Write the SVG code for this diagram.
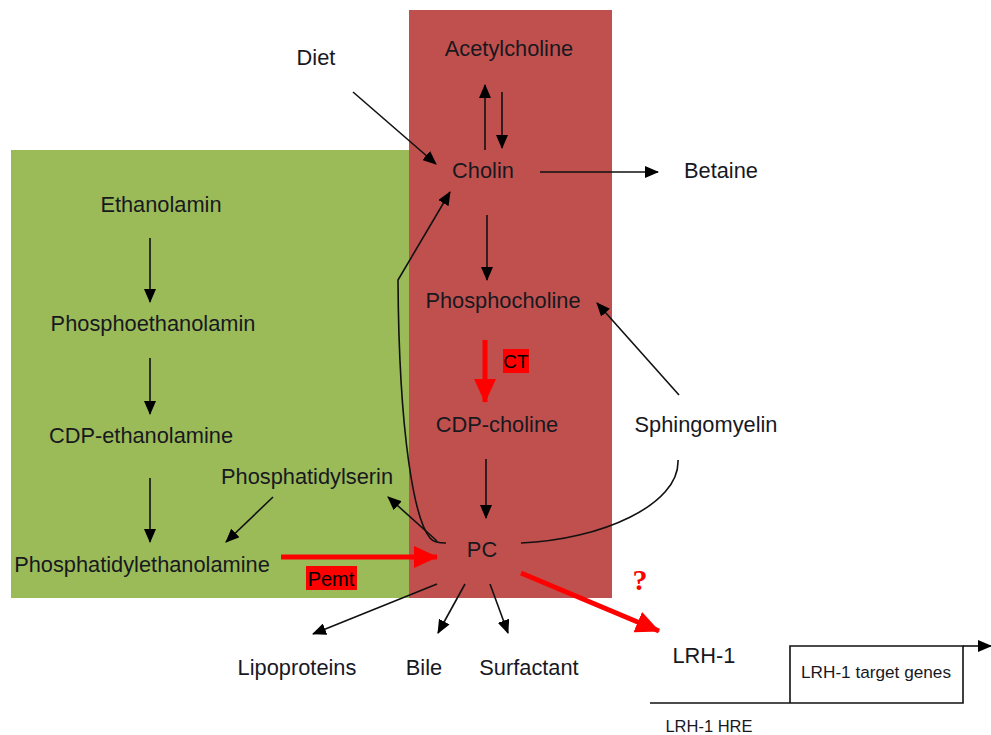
<svg xmlns="http://www.w3.org/2000/svg" width="991" height="735" viewBox="0 0 991 735">
<style>
text{font-family:"Liberation Sans",Arial,sans-serif;font-size:21.8px;fill:#18181f;text-anchor:middle}
.sm{font-size:17.2px}
.ln{stroke:#111;stroke-width:1.6;fill:none}
.rd{stroke:#ff0000;stroke-width:5;fill:none}
</style>
<defs>
<marker id="ah" markerUnits="userSpaceOnUse" markerWidth="14" markerHeight="12" refX="13" refY="6" orient="auto"><path d="M0,0 L14,6 L0,12 Z" fill="#000"/></marker>
<marker id="rh" markerUnits="userSpaceOnUse" markerWidth="24" markerHeight="22" refX="23" refY="11" orient="auto"><path d="M0,0 L24,11 L0,22 Z" fill="#ff0000"/></marker>
</defs>
<g id="bg">
<rect x="11" y="150" width="399" height="448" fill="#9bbb59"/>
<rect x="409" y="10" width="203" height="588" fill="#c0504d"/>
</g>
<g id="connectors">
<line class="ln" x1="353" y1="92" x2="436" y2="164" marker-end="url(#ah)"/>
<line class="ln" x1="485" y1="150" x2="485" y2="85" marker-end="url(#ah)"/>
<line class="ln" x1="502" y1="92" x2="502" y2="148" marker-end="url(#ah)"/>
<line class="ln" x1="540" y1="172" x2="658" y2="172" marker-end="url(#ah)"/>
<line class="ln" x1="487" y1="215" x2="487" y2="280" marker-end="url(#ah)"/>
<line class="rd" x1="485" y1="340" x2="485" y2="402" marker-end="url(#rh)"/>
<line class="ln" x1="486" y1="459" x2="486" y2="518" marker-end="url(#ah)"/>
<line class="ln" x1="679" y1="395" x2="597" y2="303" marker-end="url(#ah)"/>
<path class="ln" d="M678,460 C680,505 600,540 521,543"/>
<path class="ln" d="M446,543 C438,543 433,542 430,538 C415,520 399,440 398,280 L450,192" marker-end="url(#ah)"/>
<line class="ln" x1="437" y1="541" x2="388" y2="497" marker-end="url(#ah)"/>
<line class="ln" x1="273" y1="497" x2="226" y2="542" marker-end="url(#ah)"/>
<line class="ln" x1="150" y1="238" x2="150" y2="302" marker-end="url(#ah)"/>
<line class="ln" x1="150" y1="358" x2="150" y2="414" marker-end="url(#ah)"/>
<line class="ln" x1="150" y1="478" x2="150" y2="542" marker-end="url(#ah)"/>
<line class="rd" x1="281" y1="557" x2="437" y2="557" marker-end="url(#rh)"/>
<line class="rd" x1="521" y1="573" x2="659" y2="631" marker-end="url(#rh)"/>
<line class="ln" x1="437" y1="584" x2="313" y2="634" marker-end="url(#ah)"/>
<line class="ln" x1="465" y1="584" x2="438" y2="633" marker-end="url(#ah)"/>
<line class="ln" x1="490" y1="584" x2="508" y2="633" marker-end="url(#ah)"/>
<line class="ln" x1="650" y1="703" x2="790" y2="703"/>
<polyline class="ln" points="790,703 790,646 963,646 963,703 790,703"/>
<line class="ln" x1="963" y1="646" x2="991" y2="646" marker-end="url(#ah)"/>
</g>
<g id="n-diet"><text x="316" y="65">Diet</text></g>
<g id="n-acetylcholine"><text x="509" y="56">Acetylcholine</text></g>
<g id="n-cholin"><text x="483" y="178">Cholin</text></g>
<g id="n-betaine"><text x="721" y="178">Betaine</text></g>
<g id="n-ethanolamin"><text x="161" y="212">Ethanolamin</text></g>
<g id="n-phosphoethanolamin"><text x="153" y="331">Phosphoethanolamin</text></g>
<g id="n-cdpethanolamine"><text x="141" y="443">CDP-ethanolamine</text></g>
<g id="n-phosphatidylserin"><text x="307" y="484">Phosphatidylserin</text></g>
<g id="n-pe"><text x="142" y="572">Phosphatidylethanolamine</text></g>
<g id="n-pemt"><rect x="306" y="566" width="51" height="24" fill="#ff0000"/><text x="331" y="586" style="font-size:20px;fill:#000">Pemt</text></g>
<g id="n-phosphocholine"><text x="503" y="308">Phosphocholine</text></g>
<g id="n-ct"><rect x="503" y="349" width="26" height="24" fill="#ff0000"/><text x="516" y="368" style="font-size:19px;fill:#000">CT</text></g>
<g id="n-cdpcholine"><text x="497" y="432">CDP-choline</text></g>
<g id="n-sphingomyelin"><text x="706" y="432">Sphingomyelin</text></g>
<g id="n-pc"><text x="482" y="557">PC</text></g>
<g id="n-lipoproteins"><text x="297" y="675">Lipoproteins</text></g>
<g id="n-bile"><text x="424" y="675">Bile</text></g>
<g id="n-surfactant"><text x="529" y="675">Surfactant</text></g>
<g id="n-q"><text x="640" y="590" style="font-family:'Liberation Serif','Times New Roman',serif;font-weight:bold;font-size:30px;fill:#ff0000">?</text></g>
<g id="n-lrh1"><text x="704" y="663">LRH-1</text></g>
<g id="n-targets"><text class="sm" x="876" y="678">LRH-1 target genes</text></g>
<g id="n-hre"><text x="709" y="732" style="font-size:16.5px">LRH-1 HRE</text></g>
</svg>
